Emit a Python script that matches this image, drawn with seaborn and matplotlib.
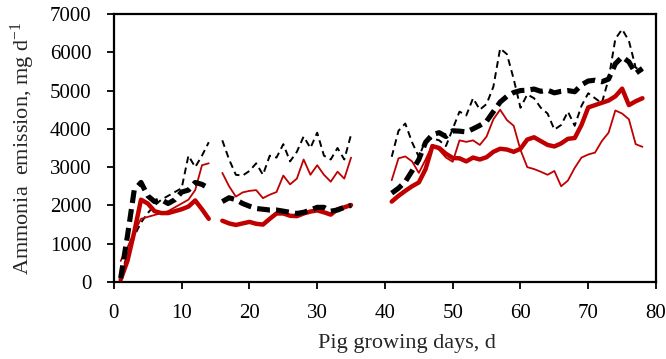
import numpy as np
import pandas as pd
import matplotlib
matplotlib.use("Agg")
import matplotlib.pyplot as plt
import seaborn as sns

# ---- data ----
days_seg1 = [1, 2, 3, 4, 5, 6, 7, 8, 9, 10, 11, 12, 13, 14]
days_seg2 = [16, 17, 18, 19, 20, 21, 22, 23, 24, 25, 26, 27, 28, 29, 30, 31, 32, 33, 34, 35]
days_seg3 = list(range(41, 79))

thin_black_1 = [200, 700, 1200, 1550, 1800, 2000, 2150, 2250, 2350, 2450, 3300, 3000, 3300, 3650]
thick_black_1 = [100, 1200, 2400, 2600, 2250, 2100, 2150, 2050, 2150, 2350, 2400, 2600, 2550, 2450]
thin_red_1 = [550, 900, 1300, 1650, 1700, 1750, 1800, 1850, 1950, 2050, 2150, 2400, 3050, 3100]
thick_red_1 = [60, 550, 1300, 2150, 2050, 1850, 1800, 1800, 1850, 1900, 1970, 2130, 1900, 1650]

thin_black_2 = [3700, 3200, 2800, 2780, 2900, 3100, 2800, 3300, 3250, 3600,
                3150, 3400, 3800, 3500, 3900, 3300, 3200, 3500, 3200, 3850]
thick_black_2 = [2100, 2200, 2150, 2050, 1980, 1920, 1900, 1880, 1880, 1850,
                 1820, 1790, 1820, 1880, 1950, 1950, 1850, 1880, 1950, 2000]
thin_red_2 = [2850, 2500, 2230, 2340, 2380, 2400, 2190, 2280, 2350, 2780,
              2550, 2700, 3200, 2800, 3050, 2800, 2620, 2880, 2700, 3250]
thick_red_2 = [1600, 1530, 1490, 1530, 1570, 1520, 1500, 1650, 1790, 1790,
               1730, 1720, 1790, 1840, 1870, 1820, 1760, 1900, 1950, 2010]

thin_black_3 = [3270, 3950, 4140, 3650, 3270, 3700, 3750, 3700, 3550, 4000,
                4450, 4350, 4800, 4500, 4650, 5100, 6100, 5950, 5300, 4550,
                4900, 4800, 4550, 4400, 3980, 4100, 4450, 4080, 4600, 4930,
                4800, 4670, 5300, 6350, 6600, 6300, 5600, 5500]
thick_black_3 = [2320, 2450, 2620, 2900, 3200, 3650, 3850, 3900, 3800, 3950,
                 3940, 3920, 4000, 4090, 4200, 4450, 4700, 4850, 4950, 5000,
                 5010, 5040, 4980, 5010, 4940, 4980, 5000, 4970, 5150, 5250,
                 5270, 5230, 5300, 5700, 5880, 5750, 5450, 5580]
thin_red_3 = [2660, 3230, 3280, 3150, 2850, 3200, 3580, 3450, 3250, 3140,
              3700, 3660, 3700, 3580, 3800, 4250, 4500, 4230, 4080, 3450,
              3000, 2950, 2880, 2800, 2900, 2500, 2650, 2980, 3250, 3330,
              3380, 3680, 3900, 4480, 4400, 4250, 3600, 3530]
thick_red_3 = [2100, 2250, 2380, 2500, 2600, 2950, 3550, 3500, 3350, 3240,
               3230, 3150, 3250, 3200, 3260, 3400, 3480, 3460, 3400, 3480,
               3720, 3780, 3680, 3580, 3540, 3620, 3740, 3760, 4100, 4560,
               4620, 4680, 4740, 4850, 5050, 4620, 4720, 4800]

x_ticks = [0, 10, 20, 30, 40, 50, 60, 70, 80]
y_ticks = [0, 1000, 2000, 3000, 4000, 5000, 6000, 7000]

series = {
    "thin_black": (thin_black_1, thin_black_2, thin_black_3),
    "thick_black": (thick_black_1, thick_black_2, thick_black_3),
    "thin_red": (thin_red_1, thin_red_2, thin_red_3),
    "thick_red": (thick_red_1, thick_red_2, thick_red_3),
}
segdays = (days_seg1, days_seg2, days_seg3)

rows = []
for name, segs in series.items():
    for si, (d, v) in enumerate(zip(segdays, segs)):
        for dd, vv in zip(d, v):
            rows.append({"series": name, "seg": si, "day": dd, "value": vv})
df = pd.DataFrame(rows)

sns.set_style("ticks")
plt.rcParams["font.family"] = ["Liberation Serif", "DejaVu Serif"]
plt.rcParams["mathtext.fontset"] = "custom"
plt.rcParams["mathtext.rm"] = "Liberation Serif"
plt.rcParams["mathtext.it"] = "Liberation Serif:italic"

fig = plt.figure(figsize=(6.66, 3.59), dpi=100)
ax = fig.add_axes([0.171, 0.2145, 0.814, 0.7465])

styles = {
    "thin_black": dict(color="black", linewidth=1.4, linestyle=(0, (3.5, 2.3))),
    "thick_red": dict(color="#C00000", linewidth=3.2, linestyle="-"),
    "thin_red": dict(color="#C00000", linewidth=1.3, linestyle="-"),
    "thick_black": dict(color="black", linewidth=3.7, linestyle=(0, (2.5, 1.2))),
}
order = ["thin_black", "thin_red", "thick_red", "thick_black"]
for name in order:
    sub = df[df["series"] == name]
    sns.lineplot(data=sub, x="day", y="value", units="seg", estimator=None,
                 ax=ax, legend=False, **styles[name])

ax.set_xlim(0, 80)
ax.set_ylim(0, 7000)
ax.set_xticks(x_ticks)
ax.set_yticks(y_ticks)
ax.tick_params(axis="both", direction="out", length=5, width=1.3, labelsize=15,
               colors="black")
ax.tick_params(axis="x", pad=11)
ax.tick_params(axis="y", pad=11)
for s in ax.spines.values():
    s.set_visible(True)
    s.set_linewidth(1.6)
    s.set_color("black")
ax.set_xlabel("Pig growing days, d", fontsize=16)
ax.set_ylabel("Ammonia  emission, mg d$^{\\mathregular{-1}}$", fontsize=16)
ax.xaxis.set_label_coords(0.54, -0.195)
ax.yaxis.set_label_coords(-0.142, 0.5)

fig.savefig("out.png", dpi=100)
